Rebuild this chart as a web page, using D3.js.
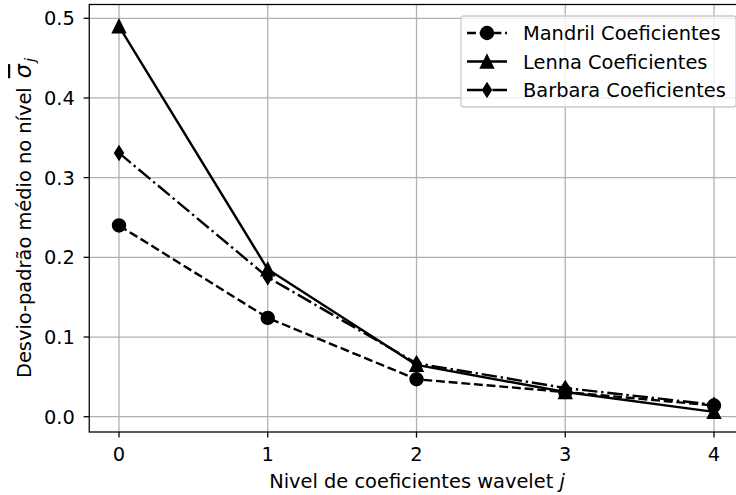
<!DOCTYPE html>
<html>
<head>
<meta charset="utf-8">
<script src="https://cdn.jsdelivr.net/npm/d3@7/dist/d3.min.js"></script>
<style>
  html, body { margin: 0; padding: 0; background: #fff; }
  svg { display: block; }
  text { font-family: "DejaVu Sans", sans-serif; fill: #000; }
</style>
</head>
<body>
<svg id="chart" width="736" height="495"></svg>
<script>
// ---- data ----
const levels = [0, 1, 2, 3, 4];
const mandril = [0.240, 0.124, 0.047, 0.031, 0.014];
const lenna   = [0.490, 0.185, 0.065, 0.031, 0.006];
const barbara = [0.331, 0.175, 0.067, 0.036, 0.015];
const seriesNames = ["Mandril Coeficientes", "Lenna Coeficientes", "Barbara Coeficientes"];
const xTicks = [0, 1, 2, 3, 4];
const yTicks = [0.0, 0.1, 0.2, 0.3, 0.4, 0.5];

// ---- layout ----
const plot = { left: 89.25, right: 743.75, top: 4.5, bottom: 432 };
const FS = 19.4;

const svg = d3.select("#chart");

const x = d3.scaleLinear().domain([-0.2, 4.2]).range([plot.left, plot.right]);
const y = d3.scaleLinear().domain([-0.0192, 0.5173]).range([plot.bottom, plot.top]);

// grid
const grid = svg.append("g");
grid.selectAll("line.gx").data(xTicks).enter().append("line")
  .attr("x1", d => x(d)).attr("x2", d => x(d))
  .attr("y1", plot.top).attr("y2", plot.bottom)
  .attr("stroke", "#b0b0b0").attr("stroke-width", 1.28);
grid.selectAll("line.gy").data(yTicks).enter().append("line")
  .attr("y1", d => y(d)).attr("y2", d => y(d))
  .attr("x1", plot.left).attr("x2", plot.right)
  .attr("stroke", "#b0b0b0").attr("stroke-width", 1.28);

// series
const series = [
  { name: seriesNames[0], values: mandril, dash: "8.9,3.8", marker: "circle" },
  { name: seriesNames[1], values: lenna,   dash: null,      marker: "triangle" },
  { name: seriesNames[2], values: barbara, dash: "15.4,3.8,2.4,3.8", marker: "diamond" }
];

function markerPath(type) {
  if (type === "circle") return d3.symbol().type(d3.symbolCircle).size(Math.PI * 6.4 * 6.4)();
  if (type === "triangle") { const s = 6.4; return `M0,${-s}L${s},${s}L${-s},${s}Z`; }
  if (type === "diamond") { const h = 6.8, w = 4.3; return `M0,${-h}L${w},0L0,${h}L${-w},0Z`; }
}

const line = d3.line().x((d, i) => x(levels[i])).y(d => y(d));

series.forEach(s => {
  const g = svg.append("g");
  g.append("path").datum(s.values)
    .attr("d", line)
    .attr("fill", "none").attr("stroke", "#000").attr("stroke-width", 2.4)
    .attr("stroke-dasharray", s.dash)
    .attr("stroke-linejoin", "round");
  g.selectAll("path.m").data(s.values).enter().append("path")
    .attr("d", markerPath(s.marker))
    .attr("transform", (d, i) => `translate(${x(levels[i])},${y(d)})`)
    .attr("fill", "#000").attr("stroke", "#000").attr("stroke-width", 1.6)
    .attr("stroke-linejoin", "miter");
});

// spines
svg.append("rect")
  .attr("x", plot.left).attr("y", plot.top)
  .attr("width", plot.right - plot.left).attr("height", plot.bottom - plot.top)
  .attr("fill", "none").attr("stroke", "#000").attr("stroke-width", 1.28);

// x ticks
const xt = svg.append("g");
xt.selectAll("line").data(xTicks).enter().append("line")
  .attr("x1", d => x(d)).attr("x2", d => x(d))
  .attr("y1", plot.bottom).attr("y2", plot.bottom + 5.6)
  .attr("stroke", "#000").attr("stroke-width", 1.28);
xt.selectAll("text").data(xTicks).enter().append("text")
  .attr("x", d => x(d)).attr("y", plot.bottom + 28.5)
  .attr("text-anchor", "middle").attr("font-size", FS)
  .text(d => d3.format("d")(d));

// y ticks
const yt = svg.append("g");
yt.selectAll("line").data(yTicks).enter().append("line")
  .attr("x1", plot.left - 5.6).attr("x2", plot.left)
  .attr("y1", d => y(d)).attr("y2", d => y(d))
  .attr("stroke", "#000").attr("stroke-width", 1.28);
yt.selectAll("text").data(yTicks).enter().append("text")
  .attr("x", plot.left - 14.5).attr("y", d => y(d) + 7)
  .attr("text-anchor", "end").attr("font-size", FS)
  .text(d => d3.format(".1f")(d));

// x label
const xl = svg.append("text")
  .attr("x", 417).attr("y", 488)
  .attr("text-anchor", "middle").attr("font-size", FS);
xl.append("tspan").text("Nivel de coeficientes wavelet ");
xl.append("tspan").attr("font-style", "italic").text("j");

// y label
const yl = svg.append("text")
  .attr("transform", `translate(31,378) rotate(-90)`)
  .attr("text-anchor", "start").attr("font-size", FS);
yl.append("tspan").text("Desvio-padrão médio no nível");
yl.append("tspan").attr("dx", 9).attr("font-style", "italic").attr("font-size", FS * 1.15)
  .style("text-decoration", "overline").text("σ");
yl.append("tspan").attr("dx", 2).attr("font-style", "italic").attr("font-size", FS * 0.75).attr("dy", 4).text("j");

// legend
const lg = svg.append("g");
const lx = 461, ly = 16, lw = 275, lh = 91;
lg.append("rect").attr("x", lx).attr("y", ly).attr("width", lw).attr("height", lh)
  .attr("rx", 3).attr("fill", "#fff").attr("fill-opacity", 0.8)
  .attr("stroke", "#cccccc").attr("stroke-width", 1.28);
series.forEach((s, i) => {
  const cy = 33 + i * 28.5;
  lg.append("line").attr("x1", 467).attr("x2", 507).attr("y1", cy).attr("y2", cy)
    .attr("stroke", "#000").attr("stroke-width", 2.4).attr("stroke-dasharray", s.dash);
  lg.append("path").attr("d", markerPath(s.marker))
    .attr("transform", `translate(487,${cy})`)
    .attr("fill", "#000").attr("stroke", "#000").attr("stroke-width", 1.6);
  lg.append("text").attr("x", 523).attr("y", cy + 7).attr("font-size", FS).text(s.name);
});
</script>
</body>
</html>
